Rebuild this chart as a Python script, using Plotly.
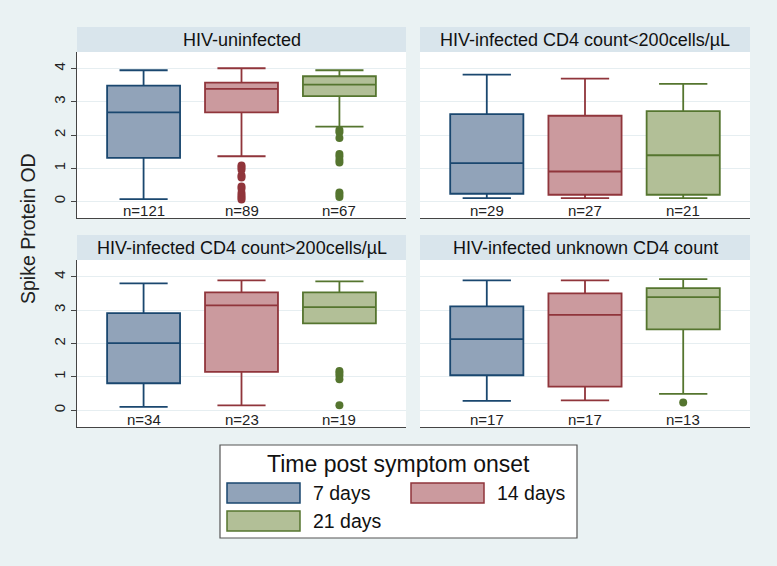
import plotly.graph_objects as go

# ---------------- data ----------------
groups = ["HIV-uninfected",
          "HIV-infected CD4 count<200cells/µL",
          "HIV-infected CD4 count>200cells/µL",
          "HIV-infected unknown CD4 count"]
series = ["7 days", "14 days", "21 days"]

n_counts = [[121, 89, 67], [29, 27, 21], [34, 23, 19], [17, 17, 13]]

q1 = [[1.31, 2.68, 3.17], [0.23, 0.20, 0.20], [0.81, 1.15, 2.60], [1.05, 0.71, 2.42]]
median = [[2.68, 3.39, 3.52], [1.15, 0.90, 1.39], [2.01, 3.14, 3.09], [2.13, 2.86, 3.39]]
q3 = [[3.49, 3.58, 3.77], [2.63, 2.58, 2.72], [2.91, 3.53, 3.53], [3.11, 3.50, 3.66]]
lower_adj = [[0.07, 1.36, 2.25], [0.10, 0.10, 0.10], [0.10, 0.15, 2.60], [0.28, 0.30, 0.49]]
upper_adj = [[3.95, 4.01, 3.95], [3.82, 3.70, 3.54], [3.80, 3.89, 3.86], [3.89, 3.89, 3.93]]

outliers = [
    [[], [1.08, 1.02, 0.95, 0.78, 0.72, 0.45, 0.38, 0.25, 0.18, 0.12, 0.06],
     [2.15, 2.08, 1.91, 1.43, 1.35, 1.25, 1.17, 0.27, 0.20, 0.13]],
    [[], [], []],
    [[], [], [1.18, 1.12, 1.04, 0.93, 0.15]],
    [[], [], [0.23]],
]

y_ticks = [0, 1, 2, 3, 4]
y_title = "Spike Protein OD"
legend_title = "Time post symptom onset"

line_colors = ["#1a476f", "#90353b", "#55752f"]
fill_colors = ["#91a3b9", "#cb9a9e", "#b2bf97"]

# ---------------- layout geometry (px) ----------------
W, H = 777, 566
col_x = [(77, 406), (420, 750)]
row_y = [(52, 218), (260, 427)]          # plot area top/bottom
strip_h = 25

def px_x(v):
    return v / W

def px_y(v):
    return 1 - v / H

fig = go.Figure()

for g in range(4):
    r, c = divmod(g, 2)
    ax = "" if g == 0 else str(g + 1)
    xref, yref = "x" + ax, "y" + ax
    for j, s in enumerate(series):
        fig.add_trace(go.Box(
            x=[s], q1=[q1[g][j]], median=[median[g][j]], q3=[q3[g][j]],
            lowerfence=[lower_adj[g][j]], upperfence=[upper_adj[g][j]],
            orientation="v", boxpoints=False, width=0.745, whiskerwidth=0.66,
            line=dict(color=line_colors[j], width=1.8), fillcolor=fill_colors[j],
            showlegend=False, xaxis=xref, yaxis=yref, hoverinfo="skip"))
        if outliers[g][j]:
            fig.add_trace(go.Scatter(
                x=[s] * len(outliers[g][j]), y=outliers[g][j], mode="markers",
                marker=dict(color=line_colors[j], size=8),
                showlegend=False, xaxis=xref, yaxis=yref, hoverinfo="skip"))
        fig.add_annotation(x=s, y=-0.27, xref=xref, yref=yref, text=f"n={n_counts[g][j]}",
                           showarrow=False, xanchor="center", yanchor="middle",
                           font=dict(size=15, color="#222"))

    x0, x1 = col_x[c]
    y0, y1 = row_y[r]
    fig.update_layout(**{
        "xaxis" + ax: dict(domain=[px_x(x0), px_x(x1)], anchor="y" + ax,
                           type="category", categoryarray=series, range=[-0.68, 2.68],
                           showticklabels=False, showgrid=False, zeroline=False,
                           showline=True, linecolor="#444", linewidth=1.2, ticks=""),
        "yaxis" + ax: dict(domain=[px_y(y1), px_y(y0)], anchor="x" + ax,
                           range=[-0.5, 4.5], tickvals=y_ticks, showgrid=True,
                           gridcolor="#e6eef1", gridwidth=1, zeroline=False,
                           showticklabels=(c == 0), tickangle=-90,
                           tickfont=dict(size=15, color="#222"),
                           ticks="outside" if c == 0 else "", ticklen=5,
                           tickcolor="#444", showline=(c == 0), linecolor="#444",
                           linewidth=1.2),
    })
    # title strip
    fig.add_shape(type="rect", xref="paper", yref="paper",
                  x0=px_x(x0), x1=px_x(x1), y0=px_y(y0), y1=px_y(y0 - strip_h),
                  fillcolor="#d9e5ec", line=dict(width=0), layer="below")
    fig.add_annotation(xref="paper", yref="paper", x=px_x((x0 + x1) / 2),
                       y=px_y(y0 - strip_h / 2), text=groups[g], showarrow=False,
                       xanchor="center", yanchor="middle",
                       font=dict(size=18, color="#111"))

# y-axis title
fig.add_annotation(xref="paper", yref="paper", x=px_x(28), y=px_y(229),
                   text=y_title, textangle=-90, showarrow=False,
                   xanchor="center", yanchor="middle",
                   font=dict(size=19.5, color="#222"))

# ---------------- legend (drawn) ----------------
lx0, lx1, ly0, ly1 = 220, 577, 445, 538
fig.add_shape(type="rect", xref="paper", yref="paper",
              x0=px_x(lx0), x1=px_x(lx1), y0=px_y(ly1), y1=px_y(ly0),
              fillcolor="white", line=dict(color="#555", width=1.2))
fig.add_annotation(xref="paper", yref="paper", x=px_x((lx0 + lx1) / 2), y=px_y(464),
                   text=legend_title, showarrow=False, xanchor="center", yanchor="middle",
                   font=dict(size=23, color="#111"))
item_pos = [(227, 493), (411, 493), (227, 521)]
for j, s in enumerate(series):
    sx, sy = item_pos[j]
    fig.add_shape(type="rect", xref="paper", yref="paper",
                  x0=px_x(sx), x1=px_x(sx + 73), y0=px_y(sy + 10), y1=px_y(sy - 10),
                  fillcolor=fill_colors[j], line=dict(color=line_colors[j], width=1.5))
    fig.add_annotation(xref="paper", yref="paper", x=px_x(sx + 84), y=px_y(sy),
                       text=s, showarrow=False, xanchor="left", yanchor="middle",
                       font=dict(size=19.5, color="#111"))

fig.update_layout(
    width=W, height=H, margin=dict(l=0, r=0, t=0, b=0),
    paper_bgcolor="#eaf2f3", plot_bgcolor="white",
    font=dict(family="Liberation Sans, Arial, sans-serif"),
    boxmode="overlay", showlegend=False,
)

fig.write_html("out.html", config={"displayModeBar": False},
               post_script="document.body.style.margin='0';")
